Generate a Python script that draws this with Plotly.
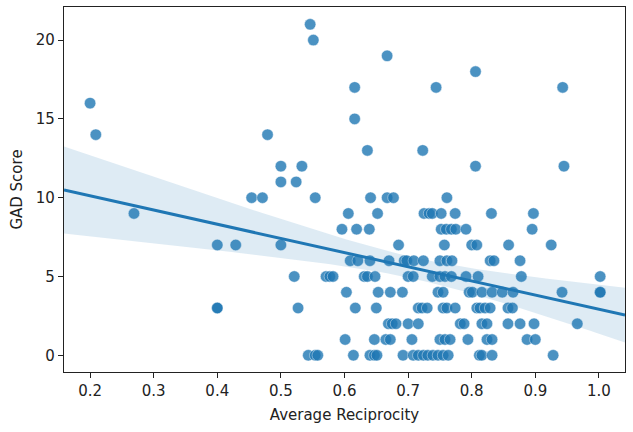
import numpy as np
import plotly.graph_objects as go

# Average reciprocity (x) and GAD score (y), grouped by score
avg_reciprocity = [
    0.546,                                   # 21
    0.551,                                   # 20
    0.667,                                   # 19
    0.806,                                   # 18
    0.616, 0.744, 0.943,                     # 17
    0.200,                                   # 16
    0.616,                                   # 15
    0.209, 0.479,                            # 14
    0.636, 0.723,                            # 13
    0.500, 0.533, 0.806, 0.945,              # 12
    0.500, 0.524,                            # 11
    0.454, 0.471, 0.554, 0.641, 0.667, 0.677, 0.761,  # 10
    0.269, 0.606, 0.652, 0.725, 0.733, 0.738, 0.752, 0.774, 0.831, 0.897,  # 9
    0.596, 0.619, 0.639, 0.752, 0.760, 0.768, 0.775, 0.791, 0.895,  # 8
    0.400, 0.429, 0.500, 0.685, 0.757, 0.800, 0.808, 0.858, 0.925,  # 7
    0.609, 0.621, 0.640, 0.670, 0.694, 0.698, 0.709, 0.724, 0.750, 0.761,
    0.769, 0.829, 0.835, 0.876,              # 6
    0.521, 0.571, 0.577, 0.582, 0.631, 0.636, 0.648, 0.700, 0.708, 0.738,
    0.750, 0.758, 0.768, 0.791, 0.810, 0.878, 1.002,  # 5
    0.603, 0.653, 0.672, 0.691, 0.747, 0.755, 0.796, 0.801, 0.816, 0.832,
    0.848, 0.865, 0.942, 1.002, 1.002,       # 4
    0.400, 0.400, 0.527, 0.617, 0.650, 0.716, 0.722, 0.730, 0.755, 0.761,
    0.774, 0.808, 0.813, 0.821, 0.829, 0.857, 0.864,  # 3
    0.669, 0.675, 0.681, 0.700, 0.716, 0.782, 0.788, 0.816, 0.824, 0.857,
    0.876, 0.898, 0.966,                     # 2
    0.601, 0.647, 0.665, 0.672, 0.706, 0.750, 0.758, 0.766, 0.794, 0.824,
    0.832, 0.887, 0.900,                     # 1
    0.543, 0.554, 0.558, 0.614, 0.640, 0.647, 0.651, 0.692, 0.708, 0.716,
    0.724, 0.731, 0.739, 0.747, 0.755, 0.763, 0.812, 0.816, 0.832, 0.928,  # 0
]
gad_score = (
    [21] * 1 + [20] * 1 + [19] * 1 + [18] * 1 + [17] * 3 + [16] * 1 + [15] * 1
    + [14] * 2 + [13] * 2 + [12] * 4 + [11] * 2 + [10] * 7 + [9] * 10 + [8] * 9
    + [7] * 9 + [6] * 14 + [5] * 17 + [4] * 15 + [3] * 17 + [2] * 13 + [1] * 13
    + [0] * 20
)

x_ticks = [0.2, 0.3, 0.4, 0.5, 0.6, 0.7, 0.8, 0.9, 1.0]
y_ticks = [0, 5, 10, 15, 20]
x_range = [0.159, 1.041]
y_range = [-1.06, 22.1]

x = np.array(avg_reciprocity)
y = np.array(gad_score, dtype=float)

# linear fit with 95% confidence band for the mean
n = len(x)
slope, intercept = np.polyfit(x, y, 1)
grid = np.linspace(x_range[0], x_range[1], 100)
fit = intercept + slope * grid
resid = y - (intercept + slope * x)
s = np.sqrt(np.sum(resid ** 2) / (n - 2))
sxx = np.sum((x - x.mean()) ** 2)
se = s * np.sqrt(1.0 / n + (grid - x.mean()) ** 2 / sxx)
upper = fit + 1.975 * se
lower = fit - 1.975 * se

blue = "#1f77b4"
fig = go.Figure()
fig.add_trace(go.Scatter(
    x=x, y=y, mode="markers",
    marker=dict(size=11.5, color=blue, opacity=0.8,
                line=dict(width=0.5, color="white")),
    showlegend=False, hoverinfo="skip"))
fig.add_trace(go.Scatter(x=grid, y=upper, mode="lines", line=dict(width=0),
                         showlegend=False, hoverinfo="skip"))
fig.add_trace(go.Scatter(x=grid, y=lower, mode="lines", line=dict(width=0),
                         fill="tonexty", fillcolor="rgba(31,119,180,0.15)",
                         showlegend=False, hoverinfo="skip"))
fig.add_trace(go.Scatter(x=grid, y=fit, mode="lines",
                         line=dict(color=blue, width=3),
                         showlegend=False, hoverinfo="skip"))

font = "DejaVu Sans, sans-serif"
axis_common = dict(showgrid=False, zeroline=False, showline=True, linecolor="#222",
                   linewidth=1.2, mirror=True, ticks="outside", ticklen=5,
                   tickwidth=1.2, tickcolor="#222", automargin=True,
                   tickfont=dict(family=font, size=15, color="#222"))
fig.update_layout(
    width=633, height=432,
    margin=dict(l=64, r=8, t=7, b=60, autoexpand=False),
    paper_bgcolor="white", plot_bgcolor="white",
    xaxis=dict(range=x_range, tickvals=x_ticks, tickformat=".1f",
               title=dict(text="Average Reciprocity", standoff=10,
                          font=dict(family=font, size=15, color="#222")),
               **axis_common),
    yaxis=dict(range=y_range, tickvals=y_ticks,
               title=dict(text="GAD Score", standoff=9,
                          font=dict(family=font, size=15, color="#222")),
               **axis_common),
)
fig.write_html(
    "out.html",
    config={"displayModeBar": False},
    post_script="document.body.style.margin='0';document.body.style.padding='0';"
                "document.body.style.overflow='hidden';",
)
